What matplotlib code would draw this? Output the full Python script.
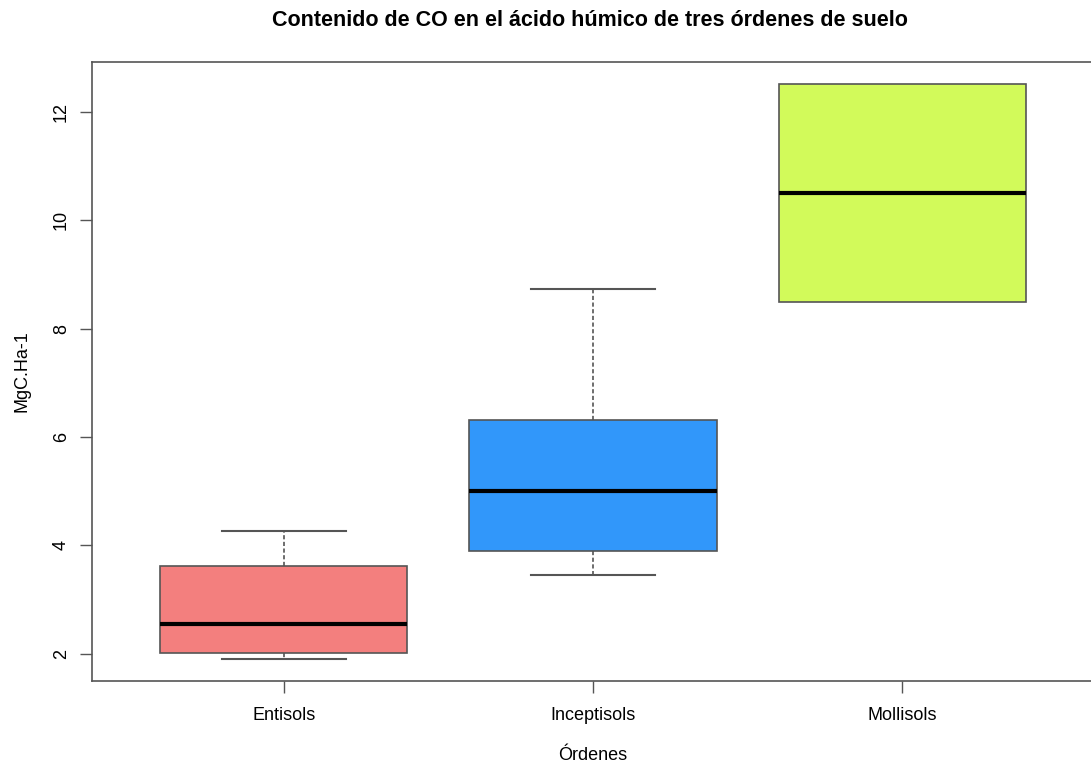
import matplotlib
matplotlib.use('Agg')
from matplotlib import pyplot as plt

plt.rcParams['font.family'] = ['Liberation Sans', 'DejaVu Sans']

ordenes = ['Entisols', 'Inceptisols', 'Mollisols']
whislo = [1.91, 3.45, 8.50]
q1 = [2.01, 3.89, 8.50]
med = [2.55, 5.01, 10.51]
q3 = [3.63, 6.32, 12.52]
whishi = [4.26, 8.73, 12.52]
colores = ['#F37F7E', '#3197FA', '#D2FA5A']

stats = []
for i in range(len(ordenes)):
    stats.append({'label': ordenes[i], 'whislo': whislo[i], 'q1': q1[i],
                  'med': med[i], 'q3': q3[i], 'whishi': whishi[i], 'fliers': []})

fig = plt.figure(figsize=(10.91, 7.64), dpi=100)
ax = fig.add_axes([92 / 1091, 1 - 681 / 764, 1002 / 1091, 619 / 764])

bp = ax.bxp(stats, positions=[1, 2, 3], widths=0.8, patch_artist=True,
            showfliers=False,
            boxprops=dict(edgecolor='#555555', linewidth=1.2),
            medianprops=dict(color='black', linewidth=3),
            whiskerprops=dict(color='#555555', linewidth=1.2, linestyle=(0, (2.5, 1.5))),
            capprops=dict(color='#555555', linewidth=1.5),
            capwidths=0.4)
for caja, c in zip(bp['boxes'], colores):
    caja.set_facecolor(c)
# sin bigotes cuando coinciden con la caja
for i in range(len(ordenes)):
    if whislo[i] >= q1[i]:
        bp['caps'][2 * i].set_visible(False)
    if whishi[i] <= q3[i]:
        bp['caps'][2 * i + 1].set_visible(False)

ax.set_xlim(0.38, 3.62)
ax.set_ylim(1.5, 12.92)
ax.set_yticks([2, 4, 6, 8, 10, 12])
ax.set_yticklabels(['2', '4', '6', '8', '10', '12'], rotation=90, va='center')
ax.set_xticks([1, 2, 3])
ax.set_xticklabels(ordenes)
ax.tick_params(axis='both', labelsize=13, length=8.5, width=1, color='#555555')
ax.tick_params(axis='x', pad=10)
ax.tick_params(axis='y', pad=7.5)
for s in ax.spines.values():
    s.set_color('#555555')
    s.set_linewidth(1.2)

ax.set_xlabel('Órdenes', fontsize=13, labelpad=16.5)
ax.set_ylabel('MgC.Ha-1', fontsize=13, labelpad=16)
fig.text(590 / 1091, 1 - 20 / 764, 'Contenido de CO en el ácido húmico de tres órdenes de suelo',
         ha='center', va='center', fontsize=15.5, fontweight='bold')

plt.savefig('out.png', dpi=100)
